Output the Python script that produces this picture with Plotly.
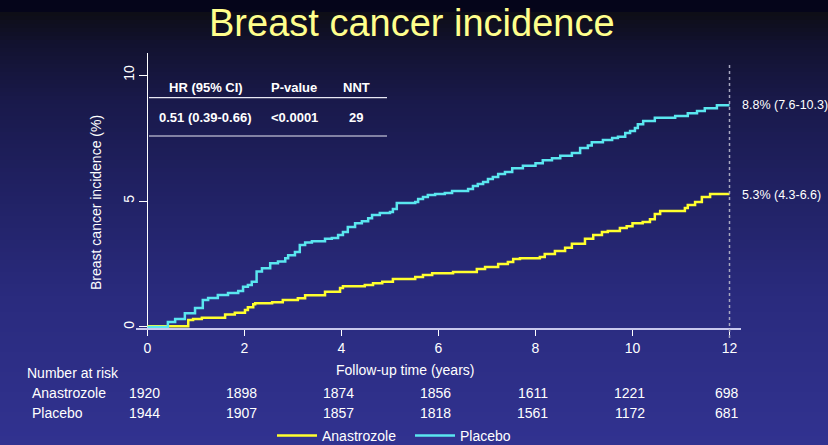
import plotly.graph_objects as go

# ---------------- data ----------------
anastrozole_t = [0, 0.84, 0.94, 1.12, 1.60, 1.80, 2.01, 2.07, 2.18, 2.22, 2.57, 2.79, 3.10, 3.25,
                 3.66, 3.97, 4.03, 4.48, 4.65, 4.84, 5.06, 5.52, 5.68, 5.87, 6.30, 6.79, 6.96,
                 7.23, 7.43, 7.54, 7.68, 8.09, 8.19, 8.40, 8.61, 8.75, 9.02, 9.19, 9.37, 9.49,
                 9.74, 9.88, 10.00, 10.21, 10.36, 10.46, 10.57, 11.08, 11.14, 11.29, 11.43,
                 11.60, 12.0]
anastrozole_y = [0.03, 0.28, 0.32, 0.37, 0.50, 0.57, 0.67, 0.78, 0.90, 0.94, 0.98, 1.07, 1.14, 1.26,
                 1.40, 1.55, 1.62, 1.67, 1.74, 1.80, 1.90, 1.98, 2.06, 2.13, 2.18, 2.30, 2.38,
                 2.50, 2.58, 2.70, 2.73, 2.78, 2.90, 3.02, 3.14, 3.30, 3.50, 3.65, 3.77, 3.81,
                 3.93, 4.00, 4.12, 4.17, 4.28, 4.48, 4.60, 4.72, 4.84, 4.96, 5.16,
                 5.28, 5.28]

placebo_t = [0, 0.42, 0.57, 0.77, 0.98, 1.14, 1.25, 1.45, 1.66, 1.87, 1.97, 2.07, 2.15, 2.25,
             2.36, 2.53, 2.69, 2.84, 2.90, 3.04, 3.14, 3.25, 3.39, 3.66, 3.80, 3.93, 4.03,
             4.13, 4.28, 4.42, 4.55, 4.63, 4.79, 5.00, 5.06, 5.14, 5.52, 5.58, 5.68, 5.78,
             5.93, 6.13, 6.28, 6.61, 6.71, 6.81, 6.92, 7.02, 7.12, 7.23, 7.37, 7.52, 7.74,
             8.00, 8.15, 8.34, 8.51, 8.75, 8.92, 9.08, 9.16, 9.39, 9.58, 9.70, 9.85, 9.95,
             10.05, 10.11, 10.22, 10.46, 10.88, 11.14, 11.33, 11.49, 11.74, 12.0]
placebo_y = [0.0, 0.20, 0.32, 0.55, 0.75, 1.07, 1.15, 1.27, 1.35, 1.43, 1.60, 1.67, 1.80, 2.20,
             2.33, 2.53, 2.60, 2.73, 2.85, 2.98, 3.25, 3.35, 3.40, 3.50, 3.53, 3.65, 3.77,
             3.97, 4.12, 4.20, 4.32, 4.44, 4.52, 4.56, 4.68, 4.92, 4.96, 5.08, 5.16, 5.24,
             5.28, 5.32, 5.40, 5.48, 5.60, 5.67, 5.75, 5.87, 5.95, 6.07, 6.15, 6.30, 6.40,
             6.50, 6.62, 6.70, 6.80, 6.90, 7.10, 7.20, 7.33, 7.42, 7.50, 7.55, 7.70, 7.78,
             7.90, 8.05, 8.17, 8.30, 8.37, 8.48, 8.57, 8.68, 8.80, 8.80]

series_names = ["Anastrozole", "Placebo"]
end_labels = ["5.3% (4.3-6.6)", "8.8% (7.6-10.3)"]
end_values = [5.3, 8.8]

risk_times = [0, 2, 4, 6, 8, 10, 12]
risk_anastrozole = [1920, 1898, 1874, 1856, 1611, 1221, 698]
risk_placebo = [1944, 1907, 1857, 1818, 1561, 1172, 681]

x_ticks = [0, 2, 4, 6, 8, 10, 12]
y_ticks = [0, 5, 10]

table_header = ["HR (95% CI)", "P-value", "NNT"]
table_row = ["0.51 (0.39-0.66)", "<0.0001", "29"]

title_text = "Breast cancer incidence"
x_title = "Follow-up time (years)"
y_title = "Breast cancer incidence (%)"

# ---------------- layout geometry ----------------
W, H = 828, 445
L, R, T, B = 136, 741, 53, 328          # plot area in pixels
X_RANGE = [-0.237, 12.237]
Y_RANGE = [-0.04, 10.873]

def pxx(p):
    return (p - L) / (R - L)

def pxy(p):
    return (B - p) / (B - T)

FONT = "Liberation Sans, Arial, Helvetica, sans-serif"
YELLOW = "#ffff2e"
CYAN = "#5ae6ef"

fig = go.Figure()
fig.add_trace(go.Scatter(x=anastrozole_t, y=anastrozole_y, mode="lines", name=series_names[0],
                         line=dict(shape="hv", color=YELLOW, width=2.5)))
fig.add_trace(go.Scatter(x=placebo_t, y=placebo_y, mode="lines", name=series_names[1],
                         line=dict(shape="hv", color=CYAN, width=2.5)))

# ---------------- background gradient ----------------
stops = [(0, (5, 5, 26)), (10, (5, 5, 26)), (10.01, (13, 13, 20)), (45, (18, 18, 48)),
         (100, (25, 25, 74)), (200, (33, 34, 102)), (300, (42, 43, 126)), (445, (49, 50, 144))]

def col_at(p):
    for (p0, c0), (p1, c1) in zip(stops[:-1], stops[1:]):
        if p0 <= p <= p1:
            f = (p - p0) / (p1 - p0) if p1 > p0 else 0
            return "rgb(%d,%d,%d)" % tuple(round(a + (b - a) * f) for a, b in zip(c0, c1))
    return "rgb(%d,%d,%d)" % stops[-1][1]

shapes = []
step = 4
y = 0
while y < H:
    y2 = min(H, y + step)
    shapes.append(dict(type="rect", xref="paper", yref="paper", layer="below",
                       x0=pxx(-5), x1=pxx(W + 5), y0=pxy(y2 + 0.5), y1=pxy(y),
                       fillcolor=col_at(y + step / 2), line=dict(width=0)))
    y = y2

# vertical dotted line at 12 years
shapes.append(dict(type="line", xref="x", yref="paper", x0=12, x1=12, y0=pxy(338), y1=pxy(65),
                   line=dict(color="#a8a8c0", width=1.5, dash="dot")))
# table rules
for py_ in (97.7, 136):
    shapes.append(dict(type="line", xref="paper", yref="paper", x0=pxx(149), x1=pxx(387),
                       y0=pxy(py_), y1=pxy(py_), line=dict(color="#e8e8f4", width=1.2)))

annotations = []
annotations.append(dict(text=title_text, xref="paper", yref="paper", x=pxx(412), y=pxy(23),
                        xanchor="center", yanchor="middle", showarrow=False,
                        font=dict(family=FONT, size=38, color="#ffff8c")))
annotations.append(dict(text=x_title, xref="paper", yref="paper", x=pxx(405), y=pxy(370),
                        xanchor="center", yanchor="middle", showarrow=False,
                        font=dict(family=FONT, size=14, color="white")))
annotations.append(dict(text=y_title, xref="paper", yref="paper", x=pxx(96), y=pxy(203),
                        xanchor="center", yanchor="middle", showarrow=False, textangle=-90,
                        font=dict(family=FONT, size=14, color="white")))

# table text
col_x = [205.8, 294, 356]
for cx, h, r in zip(col_x, table_header, table_row):
    annotations.append(dict(text="<b>%s</b>" % h, xref="paper", yref="paper", x=pxx(cx), y=pxy(87),
                            xanchor="center", yanchor="middle", showarrow=False,
                            font=dict(family=FONT, size=13, color="white")))
    annotations.append(dict(text="<b>%s</b>" % r, xref="paper", yref="paper", x=pxx(cx), y=pxy(117),
                            xanchor="center", yanchor="middle", showarrow=False,
                            font=dict(family=FONT, size=13, color="white")))

# end labels
for lab, v, dy in zip(end_labels, end_values, [-2, 0]):
    annotations.append(dict(text=lab, xref="x", yref="y", x=12, y=v, xanchor="left",
                            yanchor="middle", xshift=10, yshift=dy, showarrow=False,
                            font=dict(family=FONT, size=12.5, color="white")))

# number at risk
annotations.append(dict(text="Number at risk", xref="paper", yref="paper", x=pxx(25), y=pxy(373),
                        xanchor="left", yanchor="middle", showarrow=False,
                        font=dict(family=FONT, size=14, color="white")))
for name, vals, py_ in zip(series_names, [risk_anastrozole, risk_placebo], [393, 413]):
    annotations.append(dict(text=name, xref="paper", yref="paper", x=pxx(30), y=pxy(py_),
                            xanchor="left", yanchor="middle", showarrow=False,
                            font=dict(family=FONT, size=14, color="white")))
    for t, v in zip(risk_times, vals):
        annotations.append(dict(text=str(v), xref="x", yref="paper", x=t, y=pxy(py_),
                                xanchor="center", yanchor="middle", xshift=-3, showarrow=False,
                                font=dict(family=FONT, size=14, color="white")))

yaxis_pos = (0 - X_RANGE[0]) / (X_RANGE[1] - X_RANGE[0])

fig.update_layout(
    width=W, height=H,
    margin=dict(l=L, r=W - R, t=T, b=H - B, pad=0, autoexpand=False),
    paper_bgcolor="#22236a", plot_bgcolor="rgba(0,0,0,0)",
    font=dict(family=FONT, color="white", size=14),
    shapes=shapes, annotations=annotations,
    showlegend=True,
    legend=dict(orientation="h", xref="container", yref="container",
                x=272 / W, y=1 - 436 / H, xanchor="left", yanchor="middle",
                bgcolor="rgba(0,0,0,0)", font=dict(family=FONT, size=14, color="white"),
                itemwidth=40, tracegroupgap=0, entrywidth=83, entrywidthmode="pixels"),
    xaxis=dict(range=X_RANGE, tickvals=x_ticks, ticktext=[str(v) for v in x_ticks],
               showgrid=False, zeroline=False, showline=True, linecolor="#c8c8ee", linewidth=1.5,
               ticks="outside", ticklen=6, tickcolor="white", tickwidth=1,
               tickfont=dict(family=FONT, size=14, color="white"), layer="below traces"),
    yaxis=dict(range=Y_RANGE, tickvals=y_ticks, ticktext=[str(v) for v in y_ticks],
               anchor="free", position=yaxis_pos, showgrid=False, zeroline=False,
               showline=True, linecolor="white", linewidth=1,
               ticks="outside", ticklen=8, tickcolor="white", tickwidth=1, tickangle=-90,
               tickfont=dict(family=FONT, size=14, color="white"), layer="below traces"),
)

fig.write_html("out.html", config={"displayModeBar": False},
               post_script="document.body.style.margin='0';document.body.style.overflow='hidden';")
